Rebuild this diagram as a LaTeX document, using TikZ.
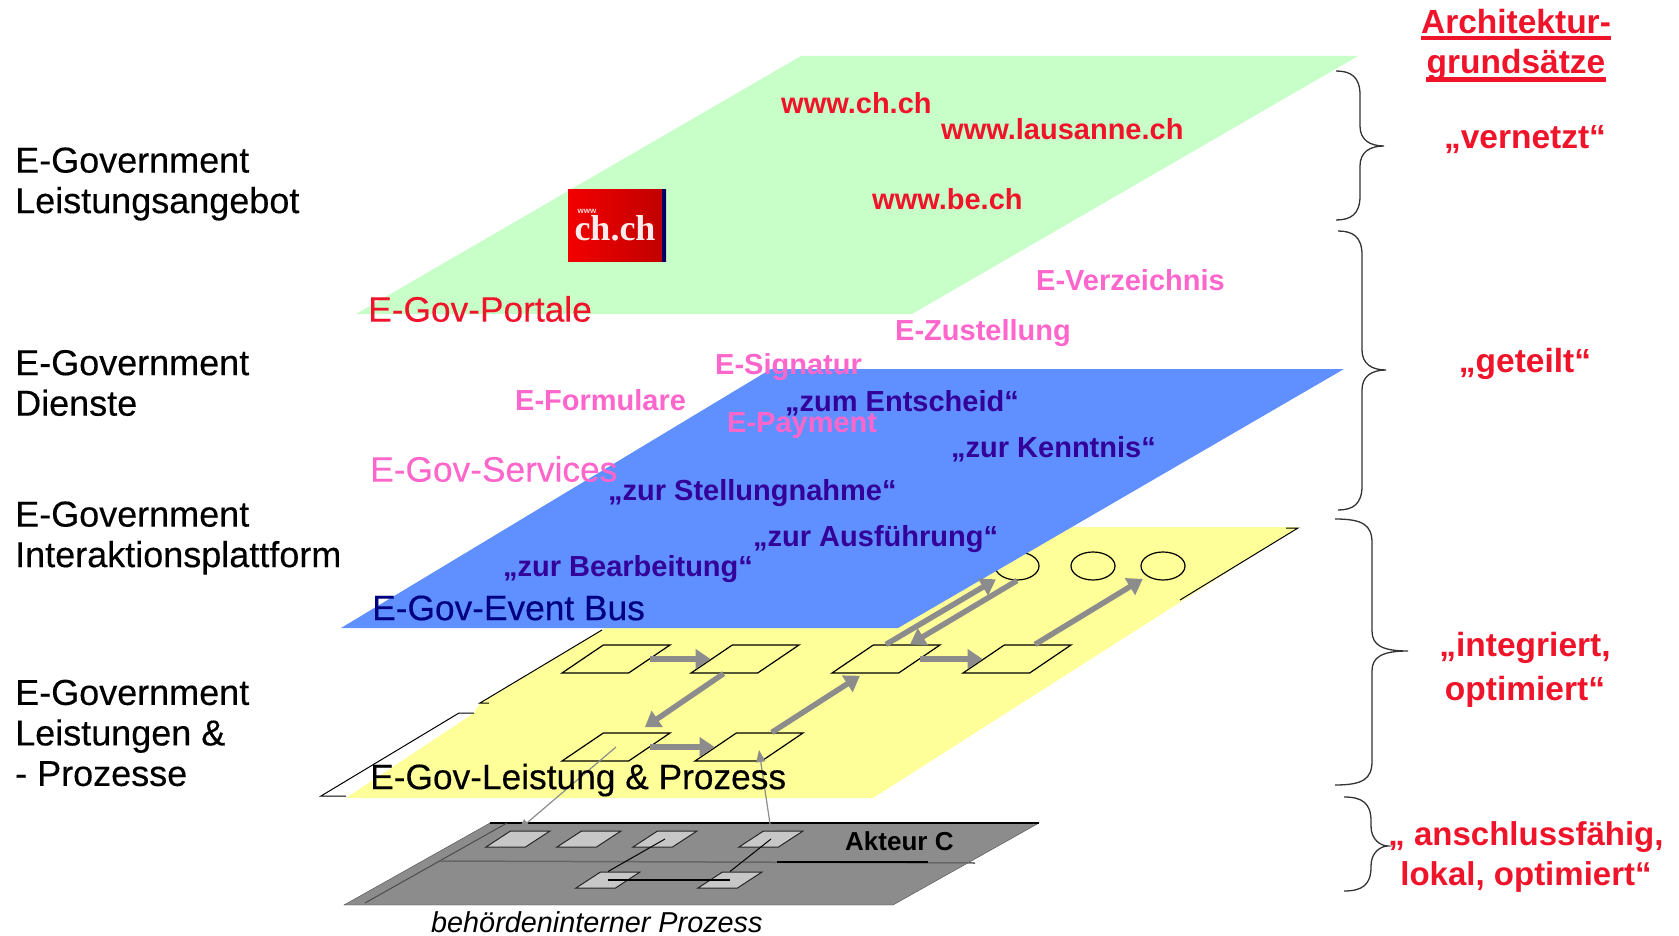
\documentclass[tikz,border=0pt]{standalone}
\usepackage{fontspec}
\setmainfont{Liberation Sans}
\newfontfamily\mymedium[FakeBold=0.3]{Liberation Sans}
\newfontfamily\mylogofont{Liberation Serif}
\usetikzlibrary{shapes.geometric,calc,arrows.meta}

\definecolor{mygreen}{HTML}{C8FFC8}
\definecolor{myblue}{HTML}{6090FF}
\definecolor{myyellow}{HTML}{FFFF99}
\definecolor{mygray}{HTML}{8C8C8C}
\definecolor{myred}{HTML}{F0142A}
\definecolor{mypink}{HTML}{FF66CC}
\definecolor{myviolet}{HTML}{330099}

% x start, x spine, x tip, y top, y tip, y bottom
\newcommand{\mybrace}[6]{
\draw[line width=1.3pt, black!80] (#1,#4) .. controls (#2-9,#4) and (#2,#4+6) .. (#2,#4+24)
  -- (#2,#5-20) .. controls (#2,#5-6) and (#2+10,#5) .. (#3,#5)
  .. controls (#2+10,#5) and (#2,#5+6) .. (#2,#5+20)
  -- (#2,#6-24) .. controls (#2,#6-6) and (#2-9,#6) .. (#1,#6);
}

\begin{document}
\begin{tikzpicture}[
x=1pt, y=-1pt,
every node/.style={inner sep=0pt},
mylabel/.style={anchor=west, align=left, font=\mymedium\fontsize{36}{40.5}\selectfont},
mylayer/.style={anchor=west, font=\mymedium\fontsize{35.3}{42}\selectfont},
myurl/.style={anchor=west, text=myred, font=\bfseries\fontsize{29}{34}\selectfont},
myservice/.style={anchor=west, text=mypink, font=\bfseries\fontsize{29}{34}\selectfont},
myevent/.style={anchor=west, text=myviolet, font=\bfseries\fontsize{29}{34}\selectfont},
myprinciple/.style={align=center, text=myred, font=\bfseries\fontsize{33.5}{44}\selectfont},
mystep/.style={draw, line width=1.2pt, inner sep=1pt, trapezium, trapezium left angle=31.5, trapezium right angle=148.5,
  trapezium stretches=true, minimum width=108pt, minimum height=28pt},
mystate/.style={draw, line width=1.2pt, ellipse, minimum width=44pt, minimum height=28pt},
mysmall/.style={draw=black!85, line width=1pt, inner sep=1pt, fill=black!22, trapezium, trapezium left angle=31.5, trapezium right angle=148.5,
  trapezium stretches=true, minimum width=64pt, minimum height=16pt},
myflow/.style={draw=mygray, line width=5.5pt, -{Triangle[length=15pt,width=19pt]}},
mythin/.style={draw=black!45, line width=1.2pt, -{Triangle[length=12pt,width=9pt]}}
]

\useasboundingbox (0,0) rectangle (1679,936);

% layers
\fill[mygreen] (801,56) -- (1358,56) -- (912,314) -- (356,314) -- cycle;
\fill[myyellow] (346,798) -- (474,713) -- (480,703) -- (602,630) -- (768,527) -- (1298,527) -- (873,798) -- cycle;
\draw[line width=1pt] (346,796) -- (321,796) -- (459,713) -- (474,713);
\draw[line width=1pt] (489,703) -- (480,703) -- (602,630);
\draw[line width=1pt] (1286,528) -- (1298,528) -- (1180,600);

\node (c1) at (1017,566) [mystate] {};
\node (c2) at (1093,566) [mystate] {};
\node (c3) at (1163,566) [mystate] {};

\fill[myblue] (771,369) -- (1344,369) -- (898,628) -- (341,628) -- cycle;

% akteur layer
\fill[mygray, draw=black!70] (490,823) -- (1039,823) -- (893,905) -- (344,905) -- cycle;
\draw[line width=1.5pt] (490,823) -- (1039,823);
\draw[black!70, line width=1pt] (365,903) -- (507,823);
\draw[black!60, line width=1.5pt] (440,861) -- (975,863);
\draw[line width=1.5pt] (777,862) -- (928,862);

\node (s1) at (518,839) [mysmall] {};
\node (s2) at (589,839) [mysmall] {};
\node (s3) at (665,839) [mysmall] {};
\node (s4) at (771,839) [mysmall] {};
\node (s5) at (608,880) [mysmall] {};
\node (s6) at (730,880) [mysmall] {};

\draw[line width=1pt] (s3.center) -- (s5.north);
\draw[line width=1pt] (s4.center) -- (s6.north);
\draw[line width=1.8pt] (s5.center) -- (s6.center);

% steps
\node (p1) at (616,659) [mystep] {};
\node (p2) at (745,659) [mystep] {};
\node (p3) at (616,747) [mystep] {};
\node (p4) at (749,747) [mystep] {};
\node (p5) at (886,659) [mystep] {};
\node (p6) at (1017,659) [mystep] {};

\draw[myflow] (p1) -- (p2);
\draw[myflow, shorten >=9pt] (p2) -- (p3);
\draw[myflow] (p3) -- (p4);
\draw[myflow, shorten >=4pt] (p4) -- (p5);
\draw[myflow] (p5) -- (p6);
\draw[myflow, shorten >=6pt] (p5.north) -- (c1.south west);
\draw[myflow] (c1.south) -- ($(p5.north)+(24,0)$);
\draw[myflow, shorten >=5pt] ($(p6.north)+(18,0)$) -- (c3.south west);

\draw[mythin] (p3.center) -- (s1.north);
\draw[mythin] (s4.north) -- ($(p4.center)+(10,3)$);

% logo
\node (logo) at (617,225.5) [minimum width=98pt, minimum height=72pt, left color=red!95!black, right color=red!75!black] {};
\fill[black!60!blue] (logo.north east) rectangle ($(logo.south east)+(-4,0)$);
\node (logowww) at (587,211) [text=white!85!red, font=\bfseries\fontsize{8}{9}\selectfont] {www};
\node (logoch) at (615,228) [text=white!92!red, font=\mylogofont\bfseries\fontsize{36}{40}\selectfont] {ch.ch};

% layer names
\node (portale) at (368,309) [mylayer, text=myred] {E-Gov-Portale};
\node (services) at (370,469) [mylayer, text=mypink] {E-Gov-Services};
\node (eventbus) at (372,608) [mylayer, text=black!50!blue] {E-Gov-Event Bus};
\node (leistung) at (370,780) [mylayer] {E-Gov-Leistung \& Prozess};

% left column
\node (angebot) at (15,184) [mylabel] {E-Government\\Leistungsangebot};
\node (dienste) at (15,383) [mylabel] {E-Government\\Dienste};
\node (plattform) at (15,538) [mylabel] {E-Government\\Interaktionsplattform};
\node (prozesse) at (15,733) [mylabel] {E-Government\\Leistungen \&\\- Prozesse};

% urls
\node (urlch) at (781,103) [myurl] {www.ch.ch};
\node (urllausanne) at (941,129) [myurl] {www.lausanne.ch};
\node (urlbe) at (872,199) [myurl] {www.be.ch};

% services
\node (verzeichnis) at (1036,280) [myservice] {E-Verzeichnis};
\node (zustellung) at (895,333) [myservice] {E-Zustellung};
\node (signatur) at (715,367) [myservice] {E-Signatur};
\node (formulare) at (515,400) [myservice] {E-Formulare};

% events
\node (entscheid) at (785,403) [myevent] {„zum Entscheid“};
\node (payment) at (727,426) [myservice] {E-Payment};
\node (kenntnis) at (951,449) [myevent] {„zur Kenntnis“};
\node (stellung) at (608,493) [myevent] {„zur Stellungnahme“};
\node (ausfuehrung) at (753,539) [myevent] {„zur Ausführung“};
\node (bearbeitung) at (503,569) [myevent] {„zur Bearbeitung“};

\node (akteur) at (845,841) [anchor=west, font=\bfseries\fontsize{26}{30}\selectfont] {Akteur C};
\node (intern) at (431,922) [anchor=west, font=\itshape\fontsize{28.8}{32}\selectfont] {behördeninterner Prozess};

% right column
\node (titel1) at (1516,22) [text=myred, font=\bfseries\fontsize{33.5}{40}\selectfont] {Architektur-};
\node (titel2) at (1516,65) [text=myred, font=\bfseries\fontsize{33.5}{40}\selectfont] {grundsätze};
\draw[myred, line width=4.5pt] ($(titel1.base west)+(0,4)$) -- ($(titel1.base east)+(0,4)$);
\draw[myred, line width=4.5pt] ($(titel2.base west)+(0,6)$) -- ($(titel2.base east)+(0,6)$);

\node (vernetzt) at (1525,140) [myprinciple] {„vernetzt“};
\node (geteilt) at (1525,364) [myprinciple] {„geteilt“};
\node (integriert) at (1525,670) [myprinciple] {„integriert,\\optimiert“};
\node (anschluss) at (1526,857) [myprinciple, font=\bfseries\fontsize{33}{40}\selectfont] {„ anschlussfähig,\\lokal, optimiert“};

\mybrace{1336}{1360}{1384}{71}{146}{220}
\mybrace{1338}{1362}{1386}{231}{370}{510}
\mybrace{1335}{1372}{1408}{519}{651}{785}
\mybrace{1344}{1371}{1388}{797}{846}{891}

\end{tikzpicture}
\end{document}
